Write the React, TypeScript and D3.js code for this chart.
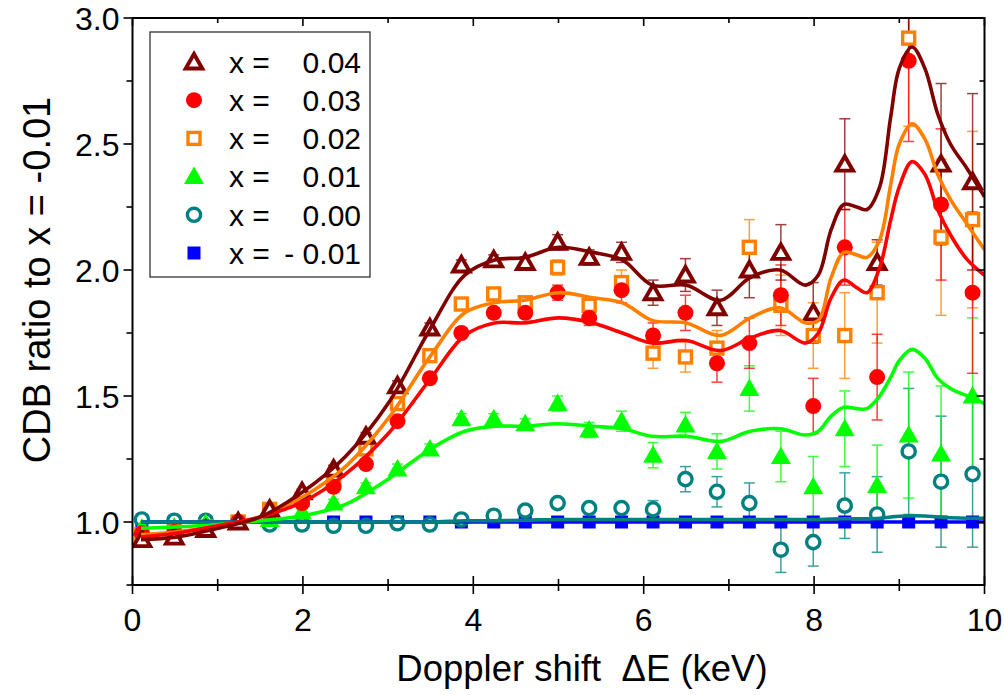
import React from 'react';
import * as d3 from 'd3';

// ---------- data ----------
const POINT_X = [0.11, 0.49, 0.86, 1.24, 1.61, 1.99, 2.36, 2.74, 3.11, 3.49, 3.86, 4.24, 4.61, 4.99, 5.36, 5.74, 6.11, 6.49, 6.86, 7.24, 7.61, 7.99, 8.36, 8.74, 9.11, 9.49, 9.86];

const PTS_004 = [0.93, 0.94, 0.97, 1.0, 1.05, 1.12, 1.21, 1.34, 1.54, 1.77, 2.02, 2.04, 2.03, 2.11, 2.05, 2.07, 1.91, 1.98, 1.85, 2.0, 2.07, 1.83, 2.42, 2.03, 3.1, 2.42, 2.35];
const ERR_004 = [0.01, 0.01, 0.01, 0.01, 0.01, 0.01, 0.015, 0.015, 0.02, 0.02, 0.02, 0.02, 0.02, 0.03, 0.03, 0.04, 0.05, 0.065, 0.07, 0.11, 0.11, 0.12, 0.18, 0.09, 0.28, 0.32, 0.35];

const PTS_003 = [0.955, 0.96, 0.98, 1.0, 1.035, 1.075, 1.14, 1.23, 1.4, 1.57, 1.75, 1.83, 1.83, 1.91, 1.81, 1.92, 1.74, 1.83, 1.63, 1.71, 1.9, 1.46, 2.09, 1.575, 2.83, 2.26, 1.91];
const ERR_003 = [0.01, 0.01, 0.01, 0.01, 0.01, 0.01, 0.015, 0.015, 0.02, 0.02, 0.02, 0.02, 0.02, 0.03, 0.03, 0.05, 0.05, 0.07, 0.075, 0.1, 0.12, 0.11, 0.15, 0.17, 0.32, 0.3, 0.32];

const PTS_002 = [0.95, 0.96, 0.98, 1.0, 1.05, 1.09, 1.17, 1.29, 1.47, 1.66, 1.865, 1.905, 1.87, 2.01, 1.86, 1.95, 1.67, 1.655, 1.69, 2.09, 1.86, 1.74, 1.74, 1.91, 2.92, 2.13, 2.2];
const ERR_002 = [0.01, 0.01, 0.01, 0.01, 0.01, 0.01, 0.015, 0.015, 0.02, 0.02, 0.02, 0.02, 0.02, 0.03, 0.03, 0.05, 0.06, 0.06, 0.07, 0.11, 0.12, 0.13, 0.17, 0.2, 0.35, 0.31, 0.35];

const PTS_001 = [0.975, 0.98, 0.995, 1.0, 1.01, 1.04, 1.075, 1.14, 1.21, 1.29, 1.41, 1.41, 1.39, 1.47, 1.365, 1.4, 1.265, 1.385, 1.28, 1.53, 1.26, 1.14, 1.37, 1.145, 1.345, 1.27, 1.5];
const ERR_001 = [0.01, 0.01, 0.01, 0.01, 0.01, 0.01, 0.015, 0.015, 0.02, 0.02, 0.02, 0.02, 0.02, 0.03, 0.03, 0.04, 0.05, 0.05, 0.07, 0.09, 0.1, 0.12, 0.15, 0.16, 0.25, 0.27, 0.31];

const PTS_000 = [1.01, 1.005, 1.005, 1.0, 0.99, 0.99, 0.985, 0.985, 0.995, 0.99, 1.01, 1.025, 1.045, 1.075, 1.055, 1.055, 1.05, 1.17, 1.12, 1.075, 0.89, 0.92, 1.065, 1.03, 1.28, 1.16, 1.19];
const ERR_000 = [0.01, 0.01, 0.01, 0.01, 0.01, 0.01, 0.01, 0.01, 0.01, 0.01, 0.015, 0.015, 0.015, 0.02, 0.02, 0.02, 0.035, 0.05, 0.06, 0.08, 0.09, 0.095, 0.13, 0.15, 0.25, 0.26, 0.29];

const PTS_M001 = [1.0, 1.0, 1.0, 1.0, 1.0, 1.0, 1.0, 1.0, 1.0, 1.0, 1.0, 1.0, 1.0, 1.0, 1.0, 1.0, 1.0, 1.0, 1.0, 1.0, 1.0, 1.0, 1.0, 1.0, 1.0, 1.0, 1.0];
const ERR_M001 = [0, 0, 0, 0, 0, 0, 0, 0, 0, 0, 0, 0, 0, 0, 0, 0, 0, 0, 0, 0, 0, 0, 0, 0, 0, 0, 0];

// smooth fitted curves, read at these energies
const CURVE_X = [0.1, 0.5, 1, 1.5, 2, 2.5, 3, 3.5, 3.9, 4.25, 4.6, 5.0, 5.4, 5.75, 6.1, 6.5, 6.9, 7.25, 7.6, 7.9, 8.05, 8.2, 8.35, 8.5, 8.62, 8.77, 8.9, 9.0, 9.15, 9.3, 9.45, 9.6, 9.8, 10];
const CURVE_004 = [0.93, 0.94, 0.975, 1.02, 1.12, 1.26, 1.47, 1.77, 1.98, 2.04, 2.05, 2.09, 2.07, 2.04, 1.94, 1.94, 1.88, 1.97, 2.0, 1.94, 1.98, 2.16, 2.26, 2.25, 2.24, 2.33, 2.61, 2.8, 2.885, 2.8, 2.62, 2.5, 2.4, 2.29];
const CURVE_003 = [0.94, 0.955, 0.985, 1.02, 1.08, 1.19, 1.35, 1.57, 1.74, 1.79, 1.79, 1.81, 1.79, 1.75, 1.71, 1.72, 1.68, 1.73, 1.76, 1.71, 1.75, 1.89, 1.96, 1.93, 1.91, 2.01, 2.2, 2.33, 2.43, 2.38, 2.24, 2.14, 2.04, 1.98];
const CURVE_002 = [0.95, 0.96, 0.985, 1.02, 1.1, 1.22, 1.41, 1.66, 1.83, 1.87, 1.88, 1.91, 1.89, 1.87, 1.8, 1.79, 1.74, 1.81, 1.85, 1.79, 1.8, 1.97, 2.07, 2.06, 2.05, 2.12, 2.34, 2.5, 2.58, 2.52, 2.38, 2.28, 2.18, 2.08];
const CURVE_001 = [0.975, 0.98, 0.99, 1.005, 1.025, 1.07, 1.17, 1.29, 1.36, 1.38, 1.38, 1.39, 1.38, 1.37, 1.34, 1.34, 1.32, 1.36, 1.37, 1.345, 1.36, 1.42, 1.455, 1.45, 1.45, 1.5, 1.575, 1.64, 1.685, 1.65, 1.57, 1.53, 1.5, 1.47];
const CURVE_000 = [1.0, 1.0, 1.0, 1.0, 1.0, 1.0, 1.0, 1.0, 1.005, 1.005, 1.007, 1.01, 1.01, 1.01, 1.01, 1.01, 1.01, 1.01, 1.01, 1.01, 1.01, 1.012, 1.013, 1.013, 1.013, 1.015, 1.02, 1.023, 1.025, 1.024, 1.02, 1.017, 1.015, 1.015];
const CURVE_M001 = [1.0, 1.0, 1.0, 1.0, 1.0, 1.0, 1.0, 1.0, 1.0, 1.0, 1.0, 1.0, 1.0, 1.0, 1.0, 1.0, 1.0, 1.0, 1.0, 1.0, 1.0, 1.0, 1.0, 1.0, 1.0, 1.0, 1.0, 1.0, 1.0, 1.0, 1.0, 1.0, 1.0, 1.0];

const LEGEND_LABELS = ['0.04', '0.03', '0.02', '0.01', '0.00', '- 0.01'];
const X_TICKS = [0, 2, 4, 6, 8, 10];
const Y_TICKS = [1.0, 1.5, 2.0, 2.5, 3.0];

type Shape = 'triOpen' | 'circle' | 'squareOpen' | 'tri' | 'circleOpen' | 'square';

const SERIES = [
  { key: 'm001', label: LEGEND_LABELS[5], color: '#0000ff', shape: 'square' as Shape, pts: PTS_M001, err: ERR_M001, curve: CURVE_M001 },
  { key: '000', label: LEGEND_LABELS[4], color: '#008080', shape: 'circleOpen' as Shape, pts: PTS_000, err: ERR_000, curve: CURVE_000 },
  { key: '001', label: LEGEND_LABELS[3], color: '#00ff00', shape: 'tri' as Shape, pts: PTS_001, err: ERR_001, curve: CURVE_001 },
  { key: '002', label: LEGEND_LABELS[2], color: '#ff8000', shape: 'squareOpen' as Shape, pts: PTS_002, err: ERR_002, curve: CURVE_002 },
  { key: '003', label: LEGEND_LABELS[1], color: '#ff0000', shape: 'circle' as Shape, pts: PTS_003, err: ERR_003, curve: CURVE_003 },
  { key: '004', label: LEGEND_LABELS[0], color: '#800000', shape: 'triOpen' as Shape, pts: PTS_004, err: ERR_004, curve: CURVE_004 },
];

const W = 1004, H = 695;
const M = { left: 132.5, right: 984.5, top: 18, bottom: 585 };
const FONT = 'Liberation Sans, Arial, Helvetica, sans-serif';

function Marker({ shape, color, x, y }: { shape: Shape; color: string; x: number; y: number }) {
  switch (shape) {
    case 'triOpen':
      return <path d={`M${x},${y - 8} L${x + 8.3},${y + 6.5} L${x - 8.3},${y + 6.5} Z`} fill="#fff" stroke={color} strokeWidth={3.9} strokeLinejoin="miter" />;
    case 'tri':
      return <path d={`M${x},${y - 10} L${x + 10},${y + 7.5} L${x - 10},${y + 7.5} Z`} fill={color} />;
    case 'circle':
      return <circle cx={x} cy={y} r={8} fill={color} />;
    case 'circleOpen':
      return <circle cx={x} cy={y} r={6.6} fill="#fff" stroke={color} strokeWidth={3.4} />;
    case 'squareOpen':
      return <rect x={x - 6} y={y - 6} width={12} height={12} fill="#fff" stroke={color} strokeWidth={3.4} />;
    case 'square':
      return <rect x={x - 6.5} y={y - 6.5} width={13} height={13} fill={color} />;
  }
  return null;
}

export default function App() {
  const x = d3.scaleLinear().domain([0, 10]).range([M.left, M.right]);
  const y = d3.scaleLinear().domain([0.75, 3.0]).range([M.bottom, M.top]);

  const xMinor = d3.range(0, 10.001, 1);
  const yMinor = d3.range(0.75, 3.001, 0.25);

  const line = d3.line<number>()
    .x((_, i) => x(CURVE_X[i]))
    .y((d) => y(d))
    .curve(d3.curveCatmullRom.alpha(0.5));

  const legendRows = [...SERIES].reverse();

  return (
    <div style={{ position: 'absolute', left: 0, top: 0 }}>
      <svg width={W} height={H} style={{ display: 'block', background: '#fff' }} fontFamily={FONT}>
        <defs>
          <clipPath id="plotclip">
            <rect x={M.left} y={M.top} width={M.right - M.left} height={M.bottom - M.top} />
          </clipPath>
        </defs>

        <g clipPath="url(#plotclip)">
          {/* error bars */}
          {SERIES.map((s) => (
            <g key={'e' + s.key} stroke={s.color} strokeWidth={1.5} opacity={0.75}>
              {s.pts.map((v, i) => {
                const e = s.err[i];
                if (!e) return null;
                const cx = x(POINT_X[i]);
                const y1 = y(v + e), y2 = y(v - e);
                return (
                  <g key={i}>
                    <line x1={cx} x2={cx} y1={y1} y2={y2} />
                    <line x1={cx - 5.5} x2={cx + 5.5} y1={y1} y2={y1} />
                    <line x1={cx - 5.5} x2={cx + 5.5} y1={y2} y2={y2} />
                  </g>
                );
              })}
            </g>
          ))}
          {/* markers */}
          {SERIES.map((s) => (
            <g key={'m' + s.key}>
              {s.pts.map((v, i) => (
                <Marker key={i} shape={s.shape} color={s.color} x={x(POINT_X[i])} y={y(v)} />
              ))}
            </g>
          ))}
          {/* fitted curves */}
          {SERIES.map((s) => (
            <path key={'l' + s.key} d={line(s.curve) || ''} fill="none" stroke={s.color} strokeWidth={3.6} />
          ))}
        </g>

        {/* frame */}
        <rect x={M.left} y={M.top} width={M.right - M.left} height={M.bottom - M.top} fill="none" stroke="#000" strokeWidth={2} />

        {/* bottom ticks */}
        {xMinor.map((t) => {
          const major = Math.abs(t % 2) < 1e-6;
          return (
            <g key={'xt' + t} stroke="#000" strokeWidth={1.6}>
              <line x1={x(t)} x2={x(t)} y1={M.bottom} y2={M.bottom + (major ? 9 : 6)} />
              <line x1={x(t)} x2={x(t)} y1={M.bottom} y2={M.bottom - (major ? 9 : 6)} />
              <line x1={x(t)} x2={x(t)} y1={M.top} y2={M.top + (major ? 8 : 5)} />
            </g>
          );
        })}
        {/* left & right ticks */}
        {yMinor.map((t, i) => {
          const major = i % 2 === 1;
          return (
            <g key={'yt' + i} stroke="#000" strokeWidth={1.6}>
              <line x1={M.left} x2={M.left - (major ? 9 : 6)} y1={y(t)} y2={y(t)} />
              <line x1={M.right} x2={M.right - (major ? 8 : 5)} y1={y(t)} y2={y(t)} />
            </g>
          );
        })}

        {/* tick labels */}
        {X_TICKS.map((t) => (
          <text key={'xl' + t} x={x(t)} y={M.bottom + 46} textAnchor="middle" fontSize={32}>{t}</text>
        ))}
        {Y_TICKS.map((t) => (
          <text key={'yl' + t} x={M.left - 13} y={y(t)} dy="0.36em" textAnchor="end" fontSize={32}>{t.toFixed(1)}</text>
        ))}

        {/* axis titles */}
        <text x={582} y={681} textAnchor="middle" fontSize={36.5} style={{ whiteSpace: 'pre' }}>{'Doppler shift  ΔE (keV)'}</text>
        <text transform={`translate(50, 280) rotate(-90)`} textAnchor="middle" fontSize={38}>CDB ratio to x = -0.01</text>

        {/* legend */}
        <rect x={150} y={32} width={220} height={245} fill="#fff" stroke="#333" strokeWidth={1.3} />
        {legendRows.map((s, i) => {
          const ry = 62 + i * 38.2;
          return (
            <g key={'lg' + s.key}>
              <Marker shape={s.shape} color={s.color} x={194} y={ry} />
              <text x={229} y={ry} dy="0.36em" fontSize={30}>x =</text>
              <text x={361} y={ry} dy="0.36em" fontSize={30} textAnchor="end">{s.label}</text>
            </g>
          );
        })}
      </svg>
    </div>
  );
}
